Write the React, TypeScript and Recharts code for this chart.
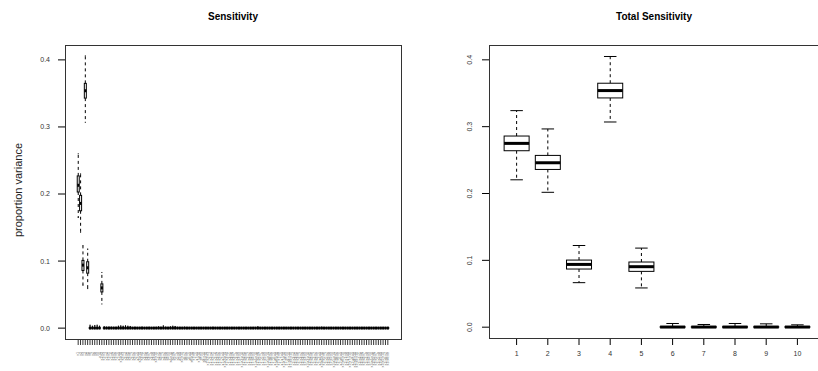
import React from 'react';
import { ComposedChart, Bar, XAxis, YAxis, ReferenceLine } from 'recharts';

const FONT = '"Liberation Sans", Arial, Helvetica, sans-serif';

// parameter names, also the x labels of the right panel
const params = ['x1', 'x2', 'x3', 'x4', 'x5', 'x6', 'x7', 'x8', 'x9', 'x10'];
const totalLabels = ['1', '2', '3', '4', '5', '6', '7', '8', '9', '10'];
const yTicks = [0, 0.1, 0.2, 0.3, 0.4];

// total sensitivity: [min, q1, median, q3, max]
const totalStats = [
    [0.2205, 0.264, 0.275, 0.286, 0.324],
    [0.2018, 0.236, 0.246, 0.257, 0.2966],
    [0.0666, 0.087, 0.0939, 0.1004, 0.1222],
    [0.307, 0.343, 0.354, 0.365, 0.405],
    [0.0587, 0.0835, 0.0905, 0.0975, 0.1183],
    [0, 0, 0.0002, 0.0006, 0.0055],
    [0, 0, 0.0002, 0.0006, 0.004],
    [0, 0, 0.0002, 0.0006, 0.0055],
    [0, 0, 0.0002, 0.0006, 0.005],
    [0, 0, 0.0002, 0.0006, 0.0035],
];

// sensitivity terms that stand out: index -> [min, q1, median, q3, max]
const bigTerms: Record<number, number[]> = {
    0: [0.165, 0.203, 0.213, 0.227, 0.26],
    1: [0.143, 0.175, 0.186, 0.198, 0.23],
    2: [0.064, 0.086, 0.094, 0.101, 0.123],
    3: [0.307, 0.343, 0.354, 0.365, 0.406],
    4: [0.059, 0.082, 0.09, 0.099, 0.118],
    10: [0.036, 0.054, 0.06, 0.066, 0.083],
};

// upper whisker of the near-zero terms (132 terms)
const smallUpper = [
    0, 0, 0, 0, 0, 0.0045, 0.003, 0.004, 0.0045, 0.003,
    0, 0.002, 0.0015, 0.0015, 0.0015, 0.0012, 0.0012, 0.003, 0.0035, 0.003,
    0.0035, 0.003, 0.0025, 0.001, 0.0012, 0.0008, 0.001, 0.0015, 0.0008, 0.001,
    0.0012, 0.0008, 0.001, 0.0012, 0.002, 0.0012, 0.0035, 0.0015, 0.001, 0.002,
    0.003, 0.0025, 0.0012, 0.001, 0.0006, 0.0015, 0.0006, 0.0006, 0.0006, 0.0006,
    0.0006, 0.0006, 0.0006, 0.0006, 0.0006, 0.0006, 0.0006, 0.0012, 0.0006, 0.0006,
    0.0006, 0.0006, 0.0006, 0.0006, 0.0006, 0.0006, 0.0006, 0.0006, 0.0006, 0.0006,
    0.0006, 0.0006, 0.0006, 0.0006, 0.0006, 0.0006, 0.002, 0.0006, 0.0006, 0.0006,
    0.0006, 0.0006, 0.0006, 0.0006, 0.0006, 0.0006, 0.0006, 0.0006, 0.0006, 0.0006,
    0.0006, 0.0006, 0.0006, 0.0006, 0.0006, 0.0006, 0.0006, 0.0006, 0.0006, 0.0006,
    0.0006, 0.0006, 0.0006, 0.0015, 0.0006, 0.0006, 0.0006, 0.0006, 0.0006, 0.0006,
    0.0006, 0.0006, 0.0006, 0.0006, 0.0006, 0.0006, 0.0006, 0.0006, 0.0006, 0.0006,
    0.0006, 0.0006, 0.0006, 0.0006, 0.0006, 0.0006, 0.0006, 0.0006, 0.0006, 0.0006,
    0.0006, 0.0006,
];
const smallMed = 0.0001;
const smallQ3 = 0.0004;

// term names: main effects, pairs, then triples
const termNames: string[] = [...params];
for (let i = 0; i < params.length; i++)
    for (let j = i + 1; j < params.length; j++) termNames.push(`${params[i]}:${params[j]}`);
for (let i = 0; i < params.length; i++)
    for (let j = i + 1; j < params.length; j++)
        for (let k = j + 1; k < params.length; k++) termNames.push(`${params[i]}:${params[j]}:${params[k]}`);

const toRow = (name: string, s: number[]) => ({
    name, min: s[0], q1: s[1], med: s[2], q3: s[3], max: s[4], range: [s[0], s[4]],
});

const sensData = smallUpper.map((up, i) =>
    toRow(termNames[i], bigTerms[i] ?? [0, 0, smallMed, smallQ3, up]));
const totalData = totalStats.map((s, i) => toRow(totalLabels[i], s));

const BoxShape = (props: any) => {
    const { x, y, width, height, payload } = props;
    if (x == null || y == null) return null;
    const top = Math.min(y, y + height);
    const bottom = Math.max(y, y + height);
    const span = payload.max - payload.min;
    const py = (v: number) => (span > 0 ? bottom - ((v - payload.min) / span) * (bottom - top) : bottom);
    const cx = x + width / 2;
    const cap = width / 4;
    return (
        <g>
            <line x1={cx} x2={cx} y1={py(payload.q3)} y2={py(payload.max)} stroke="#000" strokeDasharray="3 3" />
            <line x1={cx} x2={cx} y1={py(payload.q1)} y2={py(payload.min)} stroke="#000" strokeDasharray="3 3" />
            <line x1={cx - cap} x2={cx + cap} y1={py(payload.max)} y2={py(payload.max)} stroke="#000" />
            <line x1={cx - cap} x2={cx + cap} y1={py(payload.min)} y2={py(payload.min)} stroke="#000" />
            <rect x={x} width={width} y={py(payload.q3)} height={Math.max(py(payload.q1) - py(payload.q3), 0)}
                fill="#fff" stroke="#000" strokeWidth={1} />
            <line x1={x} x2={x + width} y1={py(payload.med)} y2={py(payload.med)} stroke="#000" strokeWidth={3} />
        </g>
    );
};

// tick marks: short stubs drawn from the reference line ends, outside the plot
const xTickShape = (len: number, w: number) => (p: any) => {
    const x = Number(p.x1);
    const bottom = Math.max(Number(p.y1), Number(p.y2));
    return <line x1={x} x2={x} y1={bottom} y2={bottom + len} stroke="#000" strokeWidth={w} />;
};
const yTickShape = (len: number) => (p: any) => {
    const y = Number(p.y1);
    const left = Math.min(Number(p.x1), Number(p.x2));
    return <line x1={left - len} x2={left} y1={y} y2={y} stroke="#000" strokeWidth={1} />;
};

const VerticalTick = (p: any) => {
    const x = Number(p.x), y = Number(p.y);
    return (
        <text x={x + 1.3} y={y} transform={`rotate(-90 ${x + 1.3} ${y})`} textAnchor="end"
            fontSize={3.6} fill="#666" fontFamily={FONT}>
            {p.payload.value}
        </text>
    );
};

const BottomTick = (p: any) => (
    <text x={p.x} y={p.y} dy="0.71em" textAnchor="middle" fontSize={7} fill="#333" fontFamily={FONT}>
        {p.payload.value}
    </text>
);

const LeftTick = (p: any) => (
    <text x={p.x} y={p.y} dy="0.35em" textAnchor="end" fontSize={7} fill="#333" fontFamily={FONT}>
        {Number(p.payload.value).toFixed(1)}
    </text>
);

const RotatedYTick = (p: any) => {
    const x = Number(p.x), y = Number(p.y);
    return (
        <text x={x} y={y} transform={`rotate(-90 ${x} ${y})`} textAnchor="middle"
            fontSize={7} fill="#333" fontFamily={FONT}>
            {Number(p.payload.value).toFixed(1)}
        </text>
    );
};

const domain: [number, number] = [-0.0162, 0.4222];

// plot frame drawn around the plotting region of each panel
const frame = (left: number, top: number, width: number, height: number) => (
    <div style={{
        position: 'absolute', left, top, width, height, border: '1px solid #333',
        boxSizing: 'border-box', pointerEvents: 'none'
    }} />
);

export default function App() {
    return (
        <div style={{ position: 'absolute', left: 0, top: 0, width: 818, height: 371, overflow: 'hidden', background: '#fff', fontFamily: FONT }}>
            <div style={{ position: 'absolute', left: 0, top: 11, width: 466, textAlign: 'center', fontWeight: 'bold', fontSize: 10 }}>
                Sensitivity
            </div>
            <div style={{ position: 'absolute', left: 489, top: 11, width: 330, textAlign: 'center', fontWeight: 'bold', fontSize: 10 }}>
                Total Sensitivity
            </div>
            <div style={{
                position: 'absolute', left: 18, top: 190, fontSize: 11, color: '#222', whiteSpace: 'nowrap',
                transform: 'translate(-50%, -50%) rotate(-90deg)'
            }}>
                proportion variance
            </div>

            <div style={{ position: 'absolute', left: 0, top: 0 }}>
                <ComposedChart width={420} height={371} data={sensData} barCategoryGap="10%"
                    margin={{ top: 45, right: 19, bottom: 0, left: 0 }}>
                    <XAxis dataKey="name" interval={0} height={32} tickSize={6} tickMargin={7}
                        padding={{ left: 12, right: 12 }} tick={VerticalTick}
                        axisLine={false} tickLine={false} />
                    <YAxis domain={domain} ticks={yTicks} width={65} tickSize={7} tickMargin={8}
                        tick={LeftTick} axisLine={false} tickLine={false} />
                    {yTicks.map((t) => (
                        <ReferenceLine key={`y${t}`} y={t} ifOverflow="visible" shape={yTickShape(7)} />
                    ))}
                    {sensData.map((d) => (
                        <ReferenceLine key={`x${d.name}`} x={d.name} ifOverflow="visible" shape={xTickShape(6, 0.8)} />
                    ))}
                    <Bar dataKey="range" shape={<BoxShape />} isAnimationActive={false} />
                </ComposedChart>
            </div>
            {frame(65, 45, 337, 295)}

            <div style={{ position: 'absolute', left: 420, top: 0 }}>
                <ComposedChart width={420} height={371} data={totalData} barCategoryGap="10%"
                    margin={{ top: 45, right: 15, bottom: 0, left: 0 }}>
                    <XAxis dataKey="name" interval={0} height={33} tickSize={7} tickMargin={6}
                        padding={{ left: 12, right: 12 }} tick={BottomTick}
                        axisLine={false} tickLine={false} />
                    <YAxis domain={domain} ticks={yTicks} width={69} tickSize={7} tickMargin={10}
                        tick={RotatedYTick} axisLine={false} tickLine={false} />
                    {yTicks.map((t) => (
                        <ReferenceLine key={`y${t}`} y={t} ifOverflow="visible" shape={yTickShape(7)} />
                    ))}
                    {totalData.map((d) => (
                        <ReferenceLine key={`x${d.name}`} x={d.name} ifOverflow="visible" shape={xTickShape(7, 1)} />
                    ))}
                    <Bar dataKey="range" shape={<BoxShape />} isAnimationActive={false} />
                </ComposedChart>
            </div>
            {frame(489, 45, 337, 294)}
        </div>
    );
}
